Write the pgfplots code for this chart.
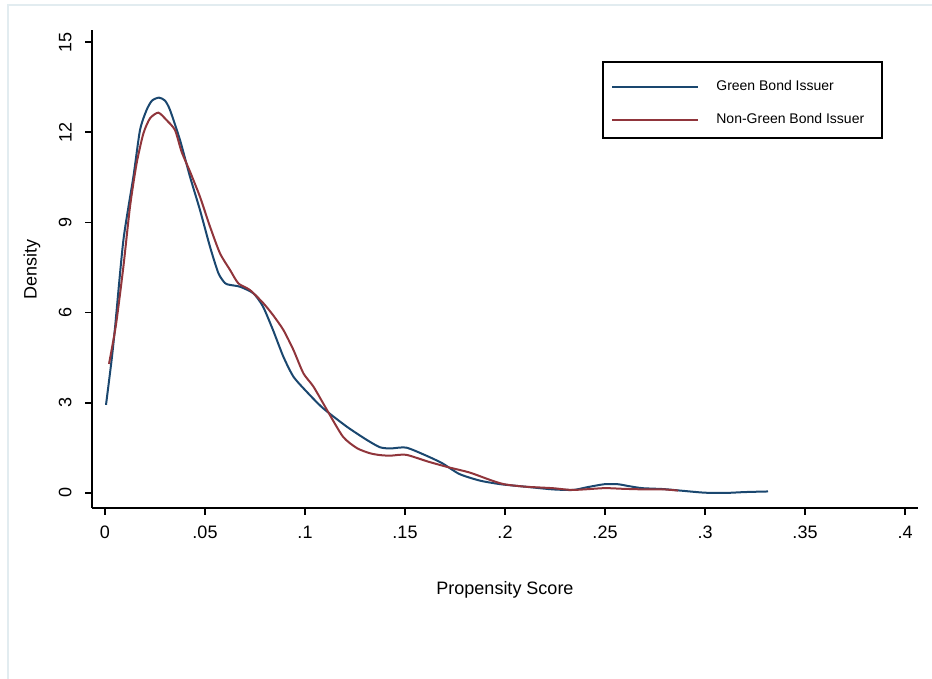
\documentclass[border=0pt]{standalone}
\usepackage{fontspec}
\setmainfont{Liberation Sans}
\usepackage{pgfplots}
\pgfplotsset{compat=1.18}
\definecolor{stnavy}{RGB}{26,71,111}
\definecolor{stmaroon}{RGB}{144,53,59}
\definecolor{framec}{RGB}{226,236,240}

\begin{document}
\begin{tikzpicture}
\useasboundingbox (0,0) rectangle (466pt,339.5pt);
\draw[framec, line width=1pt] (4pt,0) -- (4pt,337pt) -- (466pt,337pt);
\begin{axis}[
  at={(46pt,85.5pt)}, anchor=south west,
  scale only axis, width=413pt, height=239pt,
  xmin=-0.0065, xmax=0.4065, ymin=-0.5, ymax=15.4,
  axis x line*=bottom, axis y line*=left,
  axis line style={line width=0.75pt, -},
  every tick/.style={black, line width=0.75pt},
  tick align=outside, major tick length=3.5pt,
  xtick={0,0.05,0.1,0.15,0.2,0.25,0.3,0.35,0.4},
  xticklabels={0,.05,.1,.15,.2,.25,.3,.35,.4},
  ytick={0,3,6,9,12,15},
  /pgf/number format/assume math mode=true,
  tick label style={font=\fontsize{9}{11}\selectfont},
  xticklabel style={anchor=north, inner sep=0pt},
  xticklabel shift=5.5pt,
  yticklabel style={rotate=90, anchor=south, inner sep=0pt},
  yticklabel shift=6.5pt,
  label style={font=\fontsize{9}{11}\selectfont},
  xlabel={Propensity Score},
  ylabel={Density},
  xlabel style={at={(axis description cs:0.5,-0.1715)}, anchor=center},
  ylabel style={at={(axis description cs:-0.0726,0.498)}, anchor=center},
  legend style={at={(axis description cs:0.6186,0.9289)}, anchor=north west,
    draw=none, fill=none, font=\fontsize{7}{8}\selectfont,
    inner xsep=4pt, inner ysep=6pt, row sep=6pt, column sep=6.5pt,
    cells={anchor=west}},
  legend image code/.code={\draw[#1] (0pt,0pt) -- (43pt,0pt);},
  legend cell align=left,
]
\addplot[stnavy, line width=1pt, smooth, tension=0.4] coordinates {
(0.0005,2.93) (0.0033,4.42) (0.005,5.49) (0.0092,8.41) (0.0142,10.52)
(0.0175,12.07) (0.0208,12.74) (0.0235,13.05) (0.027,13.15) (0.0300,13.05)
(0.0325,12.74) (0.0375,11.74) (0.0425,10.52) (0.0475,9.41) (0.0525,8.19)
(0.0567,7.31) (0.0600,6.98) (0.0625,6.92) (0.0675,6.86) (0.0742,6.64)
(0.079,6.2) (0.084,5.42) (0.0892,4.53) (0.0942,3.87) (0.1008,3.37)
(0.109,2.82) (0.121,2.2) (0.131,1.76) (0.1375,1.52) (0.1427,1.48)
(0.1505,1.51) (0.16,1.26) (0.1686,0.99) (0.1772,0.63) (0.1875,0.41)
(0.1979,0.29) (0.2099,0.21) (0.2237,0.12) (0.234,0.10) (0.241,0.19)
(0.2496,0.29) (0.2565,0.29) (0.2617,0.23) (0.2686,0.16) (0.279,0.13)
(0.2875,0.08) (0.2996,0.01) (0.31,0.0) (0.32,0.03) (0.3315,0.05)
};
\addlegendentry{Green Bond Issuer}
\addplot[stmaroon, line width=1pt, smooth, tension=0.4] coordinates {
(0.002,4.29) (0.0055,5.6) (0.0092,7.53) (0.0125,9.52) (0.0158,10.96)
(0.0192,11.96) (0.0225,12.46) (0.0267,12.65) (0.0308,12.4) (0.035,12.07)
(0.0383,11.35) (0.0425,10.69) (0.0475,9.85) (0.0525,8.86) (0.0575,7.97)
(0.0625,7.42) (0.0667,6.97) (0.0725,6.75) (0.0792,6.31) (0.0842,5.9)
(0.0892,5.42) (0.0942,4.76) (0.0992,3.98) (0.1042,3.54) (0.111,2.76)
(0.119,1.87) (0.126,1.49) (0.1325,1.32) (0.1375,1.26) (0.1427,1.24)
(0.1505,1.27) (0.1617,1.04) (0.172,0.85) (0.1823,0.68) (0.1927,0.43)
(0.1996,0.29) (0.2099,0.21) (0.2237,0.16) (0.234,0.10) (0.2496,0.16)
(0.2582,0.14) (0.2686,0.12) (0.279,0.12) (0.2866,0.08)
};
\addlegendentry{Non-Green Bond Issuer}
\draw[black, line width=0.6pt] (axis description cs:0.6186,0.9331) rectangle (axis description cs:0.9564,0.7741);
\end{axis}
\end{tikzpicture}
\end{document}
